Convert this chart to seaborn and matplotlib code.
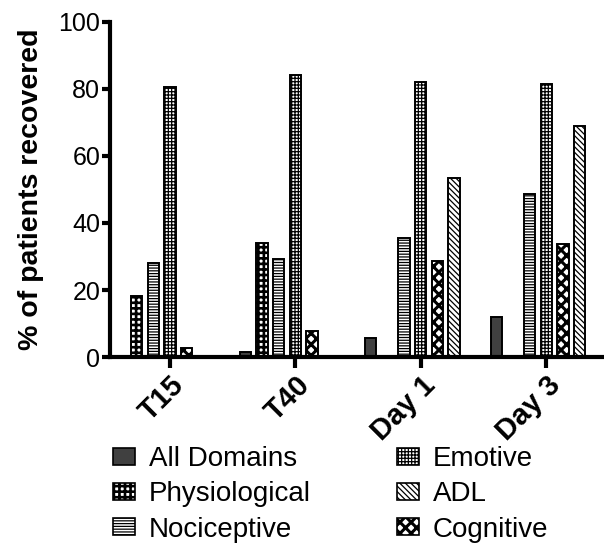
import pandas as pd
import matplotlib
matplotlib.use("Agg")
import matplotlib.pyplot as plt
from matplotlib.patches import Patch
import seaborn as sns

# data
timepoints = ["T15", "T40", "Day 1", "Day 3"]
domains = ["All Domains", "Physiological", "Nociceptive", "Emotive", "Cognitive", "ADL"]
all_domains = [0, 1.6, 5.7, 11.9]
physiological = [18.2, 34.0, 0, 0]
nociceptive = [28.1, 29.2, 35.4, 48.6]
emotive = [80.7, 84.0, 82.2, 81.6]
cognitive = [2.7, 7.9, 28.7, 33.6]
adl = [0, 0, 53.5, 68.8]

values = [all_domains, physiological, nociceptive, emotive, cognitive, adl]
rows = []
for dom, vals in zip(domains, values):
    for t, v in zip(timepoints, vals):
        rows.append({"time": t, "domain": dom, "value": v})
df = pd.DataFrame(rows)

sns.set_theme(style="ticks")
plt.rcParams["font.family"] = ["Liberation Sans", "DejaVu Sans"]
plt.rcParams["text.color"] = "black"
plt.rcParams["axes.labelcolor"] = "black"

hatches = {
    "All Domains": "",
    "Physiological": "+++",
    "Nociceptive": "------",
    "Emotive": "+++++",
    "Cognitive": "xxx",
    "ADL": "\\\\\\\\\\\\",
}
hatch_lw = {"Physiological": 1.9, "Cognitive": 2.2}
fills = {d: ("#404040" if d == "All Domains" else "white") for d in domains}
# empty 7th level keeps the slot layout of the original (tick sits on Emotive)
hue_order = domains + [" "]
palette = dict(fills)
palette[" "] = "white"

fig = plt.figure(figsize=(6.04, 5.46), dpi=100)
ax = fig.add_axes([0.182, 0.346, 0.818, 0.614])

sns.barplot(
    data=df, x="time", y="value", hue="domain",
    hue_order=hue_order, order=timepoints, palette=palette,
    width=0.93, gap=0.32, edgecolor="black", linewidth=1.4,
    saturation=1, legend=False, ax=ax, errorbar=None,
)

for dom, cont in zip(domains, ax.containers):
    for p in cont.patches:
        p.set_hatch(hatches[dom])
        if hasattr(p, "set_hatch_linewidth"):
            p.set_hatch_linewidth(hatch_lw.get(dom, 0.9))

ax.set_xlim(-0.478, 3.46)
ax.set_ylim(0, 100)
ax.set_yticks([0, 20, 40, 60, 80, 100])
ax.set_xlabel("")
ax.set_ylabel("% of patients recovered", fontsize=20.5, fontweight="bold",
              labelpad=10, color="black")
ax.tick_params(axis="y", labelsize=18, width=3, length=6, pad=1,
               colors="black")
ax.tick_params(axis="x", labelsize=21, width=3, length=8, pad=2,
               colors="black")
for lbl in ax.get_xticklabels():
    lbl.set_rotation(45)
    lbl.set_ha("right")
    lbl.set_rotation_mode("anchor")
    lbl.set_fontweight("bold")

sns.despine(ax=ax)
for s in ["left", "bottom"]:
    ax.spines[s].set_linewidth(3)
    ax.spines[s].set_color("black")

legend_order = ["All Domains", "Physiological", "Nociceptive", "Emotive", "ADL", "Cognitive"]
handles = [Patch(facecolor=fills[d], edgecolor="black", hatch=hatches[d], linewidth=1.2)
           for d in legend_order]
leg = fig.legend(
    handles, legend_order, ncol=2, frameon=False, fontsize=20,
    loc="upper left", bbox_to_anchor=(0.168, 0.203),
    handlelength=0.8, handleheight=0.55, handletextpad=0.5,
    labelspacing=0.33, columnspacing=3.1, borderaxespad=0,
)
for d, p in zip(legend_order, leg.get_patches()):
    if hasattr(p, "set_hatch_linewidth"):
        p.set_hatch_linewidth(hatch_lw.get(d, 0.9))

fig.savefig("out.png", dpi=100)
